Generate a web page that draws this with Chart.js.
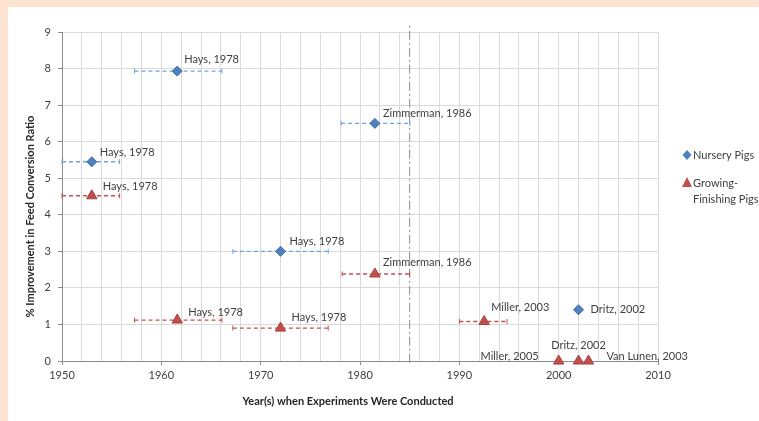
<!DOCTYPE html>
<html>
<head>
<meta charset="utf-8">
<script src="https://cdn.jsdelivr.net/npm/chart.js"></script>
<style>
  body { margin: 0; background: #fde4d2; width: 759px; height: 421px; overflow: hidden; }
  #box { position: absolute; left: 8px; top: 7px; width: 751px; height: 414px; background: #fff; }
</style>
</head>
<body>
<div id="box"><canvas id="feedChart"></canvas></div>
<script>
// --- date ---
const nurseryYears  = [1961.6, 1981.5, 1953, 1972, 2002];
const nurseryValues = [7.93, 6.5, 5.45, 3.0, 1.4];
const nurseryLow    = [1957.3, 1978.1, 1950, 1967.2, null];
const nurseryHigh   = [1966.1, 1985, 1955.8, 1976.8, null];
const nurseryLabels = ['Hays, 1978', 'Zimmerman, 1986', 'Hays, 1978', 'Hays, 1978', 'Dritz, 2002'];

const growingYears  = [1953, 1981.5, 1961.6, 1972, 1992.5, 2000, 2002, 2003];
const growingValues = [4.52, 2.38, 1.12, 0.9, 1.08, 0, 0, 0];
const growingLow    = [1950, 1978.2, 1957.3, 1967.2, 1990, null, null, null];
const growingHigh   = [1955.8, 1985, 1966.1, 1976.8, 1994.8, null, null, null];
const growingLabels = ['Hays, 1978', 'Zimmerman, 1986', 'Hays, 1978', 'Hays, 1978', 'Miller, 2003',
                       'Miller, 2005', 'Dritz, 2002', 'Van Lunen, 2003'];

const referenceYear = 1985;
const yearTicks = [1950, 1960, 1970, 1980, 1990, 2000, 2010];

// pozitia etichetelor fata de punct (dx, dy, aliniere)
const nurseryLabelPos = [[7, -12, 'left'], [8, -10, 'left'], [8, -9, 'left'], [9, -10, 'left'], [12, 0, 'left']];
const growingLabelPos = [[11, -9, 'left'], [8, -12, 'left'], [11, -8, 'left'], [11, -11, 'left'], [7, -14, 'left'],
                         [-20, -5, 'right'], [0, -16, 'center'], [18, -5, 'left']];

const blue = '#4f81bd';
const blueBar = '#6fa3de';
const red = '#c0504d';
const fontFam = 'Lato, "Open Sans", sans-serif';
const textCol = '#404040';

// bare de eroare orizontale (linii punctate)
function errorBars(years, values, lo, hi, color) {
    const out = [];
    values.forEach((v, i) => {
        if (lo[i] === null) return;
        out.push({
            type: 'line',
            data: [{ x: lo[i], y: v }, { x: hi[i], y: v }],
            borderColor: color,
            borderWidth: 1.3,
            borderDash: [4, 3],
            pointStyle: 'line',
            rotation: 90,
            pointRadius: 2.5,
            pointBorderColor: color,
            pointBorderWidth: 1,
            pointHoverRadius: 0,
            clip: false,
            order: 3
        });
    });
    return out;
}

const nurseryPoints = nurseryYears.map((x, i) => ({ x: x, y: nurseryValues[i] }));
const growingPoints = growingYears.map((x, i) => ({ x: x, y: growingValues[i] }));

const datasets = [
    ...errorBars(nurseryYears, nurseryValues, nurseryLow, nurseryHigh, blueBar),
    ...errorBars(growingYears, growingValues, growingLow, growingHigh, red),
    {
        type: 'line',
        data: [{ x: referenceYear, y: -0.05 }, { x: referenceYear, y: 9.18 }],
        borderColor: '#8a8a8a',
        borderWidth: 1,
        borderDash: [9, 3, 2, 3],
        pointRadius: 0,
        clip: false,
        order: 4
    },
    {
        label: 'Nursery Pigs',
        data: nurseryPoints,
        pointStyle: 'rectRot',
        pointRadius: 5,
        backgroundColor: blue,
        borderColor: '#3a6aa5',
        borderWidth: 1,
        clip: false,
        order: 1,
        labels: nurseryLabels,
        labelPos: nurseryLabelPos
    },
    {
        label: 'Growing-Finishing Pigs',
        data: growingPoints,
        pointStyle: 'triangle',
        pointRadius: 6,
        backgroundColor: red,
        borderColor: '#a63f3c',
        borderWidth: 1,
        clip: false,
        order: 1,
        labels: growingLabels,
        labelPos: growingLabelPos
    }
];

// eticheta pentru fiecare punct + titluri axe + legenda
const annotate = {
    id: 'annotate',
    afterDatasetsDraw(chart) {
        const c = chart.ctx;
        const area = chart.chartArea;
        c.save();
        c.font = '11px ' + fontFam;
        c.fillStyle = textCol;
        c.textBaseline = 'middle';
        chart.data.datasets.forEach((ds, di) => {
            if (!ds.labels) return;
            const meta = chart.getDatasetMeta(di);
            meta.data.forEach((pt, i) => {
                const p = ds.labelPos[i];
                c.textAlign = p[2];
                c.fillText(ds.labels[i], pt.x + p[0], pt.y + p[1]);
            });
        });

        // titluri axe
        c.font = 'bold 11px ' + fontFam;
        c.fillStyle = '#262626';
        c.textAlign = 'center';
        c.fillText('Year(s) when Experiments Were Conducted', (area.left + area.right) / 2 - 12, area.bottom + 40);
        c.save();
        c.translate(22, (area.top + area.bottom) / 2 + 20);
        c.rotate(-Math.PI / 2);
        c.fillText('% Improvement in Feed Conversion Ratio', 0, 0);
        c.restore();

        // legenda
        const lx = area.right + 29;
        c.font = '11px ' + fontFam;
        c.textAlign = 'left';
        c.fillStyle = blue;
        c.beginPath();
        c.moveTo(lx, 143); c.lineTo(lx + 4.5, 148); c.lineTo(lx, 153); c.lineTo(lx - 4.5, 148);
        c.closePath(); c.fill();
        c.fillStyle = red;
        c.beginPath();
        c.moveTo(lx, 170); c.lineTo(lx + 5, 180); c.lineTo(lx - 5, 180);
        c.closePath(); c.fill();
        c.fillStyle = textCol;
        c.fillText('Nursery Pigs', lx + 6, 148);
        c.fillText('Growing-', lx + 6, 176);
        c.fillText('Finishing Pigs', lx + 6, 192);
        c.restore();
    }
};

new Chart(document.getElementById('feedChart'), {
    type: 'scatter',
    data: { datasets: datasets },
    options: {
        responsive: true,
        maintainAspectRatio: false,
        animation: false,
        events: [],
        layout: { padding: { top: 25, right: 101, bottom: 0, left: 0 } },
        plugins: { legend: { display: false }, tooltip: { enabled: false } },
        scales: {
            x: {
                type: 'linear',
                min: 1950,
                max: 2010,
                afterFit: (s) => { s.height = 60; },
                afterBuildTicks: (s) => {
                    const t = [];
                    for (let v = 1950; v <= 2010; v += 2) t.push({ value: v });
                    s.ticks = t;
                },
                ticks: {
                    autoSkip: false,
                    maxRotation: 0,
                    padding: 4,
                    color: textCol,
                    font: { family: fontFam, size: 11 },
                    callback: (v) => yearTicks.includes(v) ? String(v) : ''
                },
                grid: {
                    color: '#dadada',
                    tickLength: 4,
                    tickColor: (ctx) => ctx.tick && yearTicks.includes(ctx.tick.value) ? '#8c8c8c' : 'rgba(0,0,0,0)'
                },
                border: { color: '#8c8c8c' }
            },
            y: {
                min: 0,
                max: 9,
                afterFit: (s) => { s.width = 54; },
                ticks: {
                    stepSize: 1,
                    padding: 7,
                    color: textCol,
                    font: { family: fontFam, size: 11 }
                },
                grid: { color: '#dadada', tickLength: 4, tickColor: '#8c8c8c' },
                border: { color: '#8c8c8c' }
            }
        }
    },
    plugins: [annotate]
});
</script>
</body>
</html>
